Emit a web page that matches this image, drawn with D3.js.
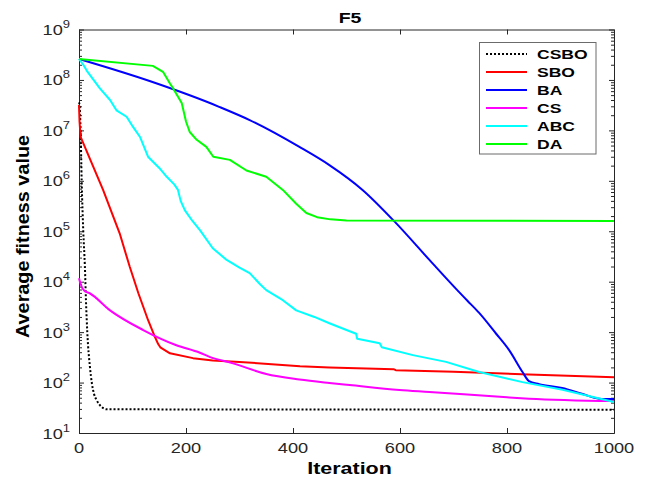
<!DOCTYPE html>
<html>
<head>
<meta charset="utf-8">
<script src="https://cdn.jsdelivr.net/npm/d3@7"></script>
<style>
  body { margin: 0; background: #fff; }
  text { font-family: "Liberation Sans", Arial, sans-serif; }
</style>
</head>
<body>
<div id="chart"></div>
<script>
// data: [iteration, average fitness]
const csbo = [[0, 3.6e7], [1, 3.2e7], [3, 1e7], [5, 1e6], [8, 1e5], [11, 2e4], [13, 4.3e3],
  [15.5, 1e3], [20.5, 200], [24, 98], [28, 60], [33, 45], [42, 33], [52, 29.5], [1000, 29]];
const sbo = [[0, 3.2e7], [1, 1.5e7], [3, 7.4e6], [45, 6.6e5], [76, 9.1e4], [95, 1.95e4],
  [111, 5.9e3], [129, 1.74e3], [142, 800], [148, 580], [152, 500], [170, 380], [213, 305],
  [250, 275], [300, 257], [413, 210], [468, 200], [588, 184], [592, 176], [700, 163],
  [841, 145], [1000, 127]];
const ba = [[0, 2.6e8], [132, 9.5e7], [263, 2.9e7], [319, 1.6e7], [412, 4.7e6], [468, 2.05e6],
  [530, 6.6e5], [590, 1.55e5], [655, 2.7e4], [707, 6.8e3], [726, 4.2e3], [748, 2.4e3],
  [779, 950], [804, 440], [829, 162], [841, 107], [860, 93], [903, 78],
  [940, 60], [972, 48], [1000, 47]];
const cs = [[0, 1.17e4], [3, 9e3], [10, 6.6e3], [20, 5.9e3], [58, 2.7e3], [120, 1.1e3],
  [182, 550], [226, 390], [244, 324], [288, 240], [350, 148], [412, 115], [468, 98],
  [506, 89], [599, 71], [655, 65], [800, 51], [841, 48], [1000, 43]];
const abc = [[0, 2.6e8], [8, 2e8], [15, 1.5e8], [39, 6.8e7], [58, 4e7], [70, 2.5e7],
  [89, 1.86e7], [101, 1.17e7], [114, 7.4e6], [129, 3e6], [150, 1.8e6], [164, 1.2e6],
  [178, 8.5e5], [185, 6.6e5], [190, 4e5], [198, 2.6e5], [212, 1.6e5], [226, 1.05e5],
  [250, 4.6e4], [276, 2.7e4], [300, 1.9e4], [319, 1.48e4], [338, 9e3], [350, 6.8e3],
  [381, 4.3e3], [406, 2.7e3], [440, 2e3], [468, 1.5e3], [500, 1.1e3], [518, 930],
  [520, 740], [562, 600], [566, 500], [624, 350], [686, 257], [748, 162], [829, 102],
  [904, 72], [1000, 41]];
const da = [[0, 2.6e8], [138, 1.9e8], [157, 1.45e8], [170, 8.5e7], [176, 6.8e7],
  [192, 3.5e7], [200, 1.5e7], [207, 9.3e6], [220, 6.5e6], [238, 4.7e6], [251, 3e6],
  [282, 2.6e6], [313, 1.6e6], [350, 1.2e6], [381, 6.6e5], [406, 3.5e5], [425, 2.3e5],
  [445, 1.9e5], [470, 1.72e5], [500, 1.63e5], [1000, 1.6e5]];

const seriesNames = ["CSBO", "SBO", "BA", "CS", "ABC", "DA"];
const seriesData = [csbo, sbo, ba, cs, abc, da];
const seriesColors = ["#000000", "#ff0000", "#0000ff", "#ff00ff", "#00ffff", "#00ff00"];
const seriesSmooth = [true, false, true, true, false, false];

const iterTicks = [0, 200, 400, 600, 800, 1000];
const decadeTicks = [1e1, 1e2, 1e3, 1e4, 1e5, 1e6, 1e7, 1e8, 1e9];

const title = "F5";
const xLabel = "Iteration";
const yLabel = "Average fitness value";

const W = 651, H = 482;
const axisColor = "#262626";
const sx = 1.3; // horizontal stretch of the text in the original figure

const svg = d3.select("#chart").append("svg")
  .attr("width", W).attr("height", H);

const x = d3.scaleLinear().domain([0, 1000]).range([79, 614]);
const y = d3.scaleLog().domain([1e1, 1e9]).range([433, 29.5]);

// minor ticks 2..9 for each decade
const minorTicks = [];
decadeTicks.slice(0, -1).forEach(d => {
  for (let k = 2; k <= 9; k++) minorTicks.push(k * d);
});

function styleAxis(g) {
  g.selectAll("path, line").attr("stroke", axisColor);
  g.selectAll("text").remove();
}

// bottom axis
svg.append("g")
  .attr("transform", `translate(0, ${y.range()[0]})`)
  .call(d3.axisBottom(x).tickValues(iterTicks).tickSizeInner(-5).tickSizeOuter(0))
  .call(styleAxis);
// top axis
svg.append("g")
  .attr("transform", `translate(0, ${y.range()[1]})`)
  .call(d3.axisTop(x).tickValues(iterTicks).tickSizeInner(-5).tickSizeOuter(0).tickFormat(""))
  .call(styleAxis);
// left axis, major + minor
svg.append("g")
  .attr("transform", `translate(${x.range()[0]}, 0)`)
  .call(d3.axisLeft(y).tickValues(decadeTicks).tickSizeInner(-5).tickSizeOuter(0).tickFormat(""))
  .call(styleAxis);
svg.append("g")
  .attr("transform", `translate(${x.range()[0]}, 0)`)
  .call(d3.axisLeft(y).tickValues(minorTicks).tickSizeInner(-3).tickSizeOuter(0).tickFormat(""))
  .call(styleAxis);
// right axis, major + minor
svg.append("g")
  .attr("transform", `translate(${x.range()[1]}, 0)`)
  .call(d3.axisRight(y).tickValues(decadeTicks).tickSizeInner(-5).tickSizeOuter(0).tickFormat(""))
  .call(styleAxis);
svg.append("g")
  .attr("transform", `translate(${x.range()[1]}, 0)`)
  .call(d3.axisRight(y).tickValues(minorTicks).tickSizeInner(-3).tickSizeOuter(0).tickFormat(""))
  .call(styleAxis);

// x tick labels
svg.append("g").selectAll("text")
  .data(iterTicks)
  .join("text")
  .attr("transform", d => `translate(${x(d)}, 453) scale(${sx},1)`)
  .attr("text-anchor", "middle")
  .attr("font-size", 14)
  .attr("fill", axisColor)
  .text(d => d);

// y tick labels: 10 with superscript exponent
const yLab = svg.append("g").selectAll("text")
  .data(decadeTicks)
  .join("text")
  .attr("transform", d => `translate(70, ${y(d) + 5.5}) scale(${sx},1)`)
  .attr("text-anchor", "end")
  .attr("font-size", 14)
  .attr("fill", axisColor);
yLab.append("tspan").text("10");
yLab.append("tspan")
  .attr("dy", -7)
  .attr("font-size", 10)
  .text(d => Math.round(Math.log10(d)));

// lines
const plot = svg.append("g");
seriesData.forEach((data, i) => {
  const line = d3.line()
    .x(d => x(d[0]))
    .y(d => y(d[1]))
    .curve(seriesSmooth[i] ? d3.curveMonotoneX : d3.curveLinear);
  plot.append("path")
    .datum(data)
    .attr("fill", "none")
    .attr("stroke", seriesColors[i])
    .attr("stroke-width", 2)
    .attr("stroke-linejoin", "round")
    .attr("stroke-dasharray", i === 0 ? "2,2" : null)
    .attr("d", line);
});

// legend
const legend = svg.append("g");
legend.append("rect")
  .attr("x", 479.5).attr("y", 42.5)
  .attr("width", 116.5).attr("height", 111.5)
  .attr("fill", "#fff")
  .attr("stroke", "#6b6b6b")
  .attr("stroke-width", 1);
seriesNames.forEach((name, i) => {
  const ry = 54 + i * 18;
  legend.append("line")
    .attr("x1", 486).attr("x2", 527)
    .attr("y1", ry).attr("y2", ry)
    .attr("stroke", seriesColors[i])
    .attr("stroke-width", 2)
    .attr("stroke-dasharray", i === 0 ? "2,2" : null);
  legend.append("text")
    .attr("transform", `translate(537, ${ry + 5}) scale(1.35,1)`)
    .attr("font-size", 13)
    .attr("font-weight", "bold")
    .text(name);
});

// title and axis labels
svg.append("text")
  .attr("transform", `translate(350, 23.3) scale(${sx},1)`)
  .attr("text-anchor", "middle")
  .attr("font-size", 15)
  .attr("font-weight", "bold")
  .text(title);

svg.append("text")
  .attr("transform", `translate(349.5, 474) scale(${sx},1)`)
  .attr("text-anchor", "middle")
  .attr("font-size", 16.5)
  .attr("font-weight", "bold")
  .text(xLabel);

svg.append("text")
  .attr("transform", "translate(29, 236.5) rotate(-90)")
  .attr("text-anchor", "middle")
  .attr("font-size", 19)
  .attr("font-weight", "bold")
  .attr("textLength", 203)
  .attr("lengthAdjust", "spacingAndGlyphs")
  .text(yLabel);
</script>
</body>
</html>
